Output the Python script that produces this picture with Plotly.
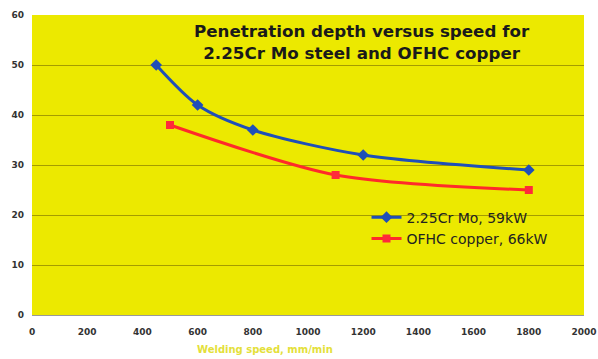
import plotly.graph_objects as go

steel_speed = [450, 600, 800, 1200, 1800]
steel_depth = [50, 42, 37, 32, 29]
copper_speed = [500, 1100, 1800]
copper_depth = [38, 28, 25]
x_ticks = [0, 200, 400, 600, 800, 1000, 1200, 1400, 1600, 1800, 2000]
y_ticks = [0, 10, 20, 30, 40, 50, 60]

fig = go.Figure()
fig.add_trace(go.Scatter(
    x=steel_speed, y=steel_depth, mode="lines+markers",
    name="2.25Cr Mo, 59kW",
    line=dict(color="#1f4fb8", width=3, shape="spline", smoothing=0.8),
    marker=dict(symbol="diamond", size=9, color="#1f4fb8"),
))
fig.add_trace(go.Scatter(
    x=copper_speed, y=copper_depth, mode="lines+markers",
    name="OFHC copper, 66kW",
    line=dict(color="#ff2a2a", width=3, shape="spline", smoothing=0.8),
    marker=dict(symbol="square", size=8, color="#ff2a3a"),
))

fig.update_layout(
    width=598, height=359,
    margin=dict(l=32, r=14, t=15, b=44),
    paper_bgcolor="white",
    plot_bgcolor="#ece900",
    showlegend=True,
    legend=dict(
        x=0.606, y=0.378, xanchor="left", yanchor="top",
        bgcolor="rgba(0,0,0,0)",
        font=dict(family="DejaVu Sans", size=14, color="#222222"),
        itemwidth=30, tracegroupgap=0,
    ),
    xaxis=dict(
        range=[0, 2000], tickvals=x_ticks, showgrid=False, zeroline=False,
        showline=True, linecolor="#999999", linewidth=1, automargin=False,
        tickfont=dict(family="DejaVu Sans", size=9, color="#333333", weight="bold"),
        ticks="", ticklen=0, ticklabelstandoff=8,
    ),
    yaxis=dict(
        range=[0, 60], tickvals=y_ticks, showgrid=True, gridcolor="#a49c00", gridwidth=1,
        zeroline=False, showline=False, automargin=False,
        tickfont=dict(family="DejaVu Sans", size=9, color="#333333", weight="bold"),
        ticks="", ticklen=0, ticklabelstandoff=7,
    ),
    annotations=[
        dict(
            text="Penetration depth versus speed for<br>2.25Cr Mo steel and OFHC copper",
            xref="paper", yref="paper", x=(362 - 32) / 552, y=(315 - 19) / 300,
            xanchor="center", yanchor="top", showarrow=False,
            font=dict(family="DejaVu Sans", size=16.7, color="#1a1a1a", weight="bold"),
        ),
        dict(
            text="Welding speed, mm/min",
            xref="paper", yref="paper", x=(265 - 32) / 552, y=(315 - 349) / 300,
            xanchor="center", yanchor="middle", showarrow=False,
            font=dict(family="DejaVu Sans", size=10, color="#e4df3a", weight="bold"),
        ),
    ],
)

fig.write_html(
    "out.html",
    config={"displayModeBar": False},
    post_script="document.body.style.margin='0';document.body.style.padding='0';",
)
